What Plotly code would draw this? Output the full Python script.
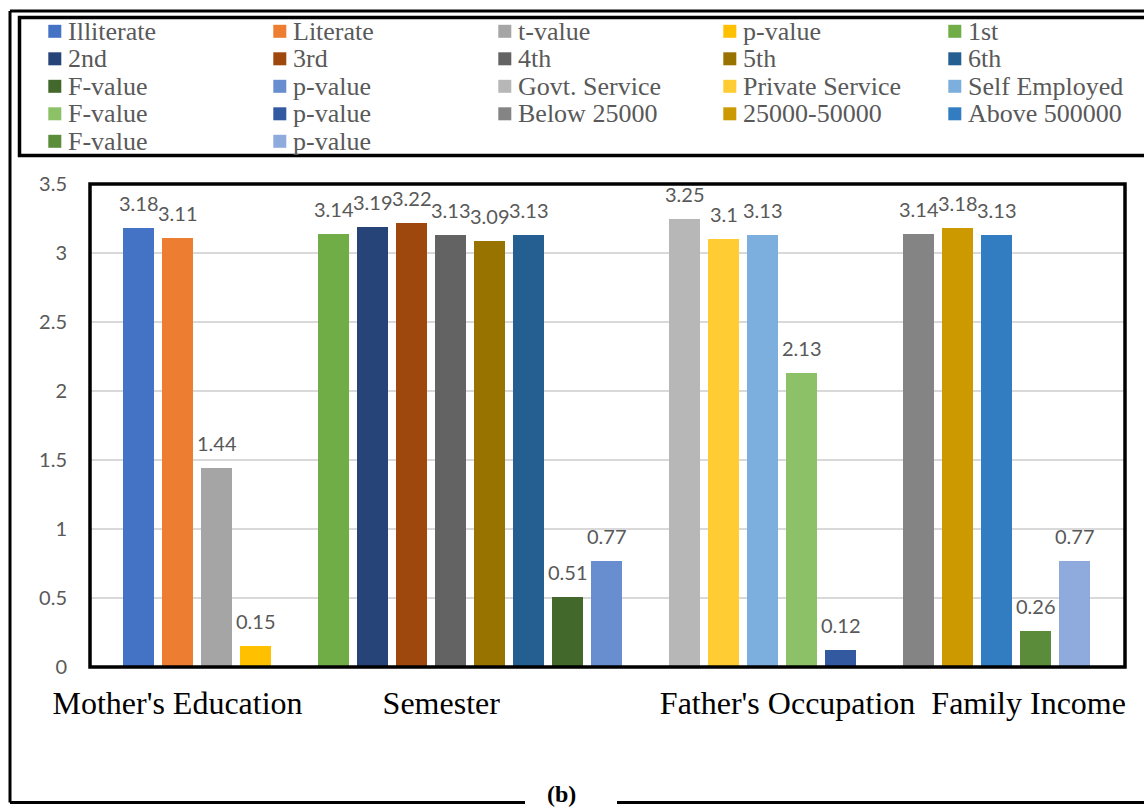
import plotly.graph_objects as go

# ---- data -------------------------------------------------------------
categories = ["Mother's Education", "Semester", "Father's Occupation", "Family Income"]

mother_names = ["Illiterate", "Literate", "t-value", "p-value"]
mother_values = [3.18, 3.11, 1.44, 0.15]

semester_names = ["1st", "2nd", "3rd", "4th", "5th", "6th", "F-value", "p-value"]
semester_values = [3.14, 3.19, 3.22, 3.13, 3.09, 3.13, 0.51, 0.77]

father_names = ["Govt. Service", "Private Service", "Self Employed", "F-value", "p-value"]
father_values = [3.25, 3.1, 3.13, 2.13, 0.12]

income_names = ["Below 25000", "25000-50000", "Above 500000", "F-value", "p-value"]
income_values = [3.14, 3.18, 3.13, 0.26, 0.77]

y_ticks = [0, 0.5, 1, 1.5, 2, 2.5, 3, 3.5]

# ---- colours ----------------------------------------------------------
mother_colors = ["#4472C4", "#ED7D31", "#A5A5A5", "#FFC000"]
semester_colors = ["#70AD47", "#264478", "#9E480E", "#636363", "#997300", "#255E91",
                   "#43682B", "#698ED0"]
father_colors = ["#B7B7B7", "#FFCD33", "#7CAFDD", "#8CC168", "#335AA1"]
income_colors = ["#848484", "#CC9A00", "#327DC2", "#5A8C3A", "#8FAADC"]

groups = [
    (mother_names, mother_values, mother_colors),
    (semester_names, semester_values, semester_colors),
    (father_names, father_values, father_colors),
    (income_names, income_values, income_colors),
]

# ---- page geometry ----------------------------------------------------
W, H = 1144, 807
ML, MR, MT, MB = 90, 19, 184, 140
PW, PH = W - ML - MR, H - MT - MB


def px(x):
    return (x - ML) / PW


def py(y):
    return (H - MB - y) / PH


LABEL_FONT = "Lato, Open Sans, sans-serif"
SERIF = "Liberation Serif, Times New Roman, serif"
GREY_TEXT = "#595959"

fig = go.Figure()

# bars laid out slot by slot, one empty slot between groups
annotations = []
legend_items = []
slot = 0
for names, values, colors in groups:
    for name, val, col in zip(names, values, colors):
        fig.add_trace(go.Bar(
            x=[slot], y=[val], name=name, width=0.795,
            marker=dict(color=col, line=dict(width=0)),
            showlegend=False, hoverinfo="name+y",
        ))
        annotations.append(dict(
            x=slot, y=val, xref="x", yref="y", text=f"{val:g}",
            showarrow=False, yanchor="middle", yshift=25,
            font=dict(family=LABEL_FONT, size=20, color=GREY_TEXT),
        ))
        legend_items.append((name, col))
        slot += 1
    slot += 1

# category captions under the bars
category_positions = [1.0, 7.76, 16.64, 22.82]

# hand-built legend: five columns, row-major order
shapes = []
for i, (name, col) in enumerate(legend_items):
    row, c = divmod(i, 5)
    x0 = 48.3 + 225 * c
    yc = 31.3 + 27.5 * row
    shapes.append(dict(
        type="rect", xref="paper", yref="paper", layer="above",
        x0=px(x0), x1=px(x0 + 13), y0=py(yc + 6.5), y1=py(yc - 6.5),
        fillcolor=col, line=dict(width=0),
    ))
    annotations.append(dict(
        x=px(x0 + 18), y=py(yc), xref="paper", yref="paper", text=name,
        showarrow=False, xanchor="left", yanchor="middle",
        font=dict(family=SERIF, size=26, color=GREY_TEXT),
    ))

# plot-area border
shapes.append(dict(type="rect", xref="paper", yref="paper", layer="above",
                   x0=0, x1=1, y0=0, y1=1, line=dict(color="black", width=3.5)))

# legend box
shapes.append(dict(type="rect", xref="paper", yref="paper", layer="above",
                   x0=px(19.5), x1=px(1170), y0=py(155.5), y1=py(17.5),
                   line=dict(color="black", width=3.5)))

# outer frame with a break for the panel tag
frame = dict(type="line", xref="paper", yref="paper", layer="above",
             line=dict(color="black", width=3))
shapes.append({**frame, "x0": px(10), "x1": px(1170), "y0": py(11), "y1": py(11)})
shapes.append({**frame, "x0": px(10), "x1": px(10), "y0": py(11), "y1": py(802.5)})
shapes.append({**frame, "x0": px(10), "x1": px(525), "y0": py(802.5), "y1": py(802.5)})
shapes.append({**frame, "x0": px(617), "x1": px(1170), "y0": py(802.5), "y1": py(802.5)})

annotations.append(dict(
    x=px(561), y=py(794), xref="paper", yref="paper", text="<b>(b)</b>",
    showarrow=False, xanchor="center", yanchor="middle",
    font=dict(family=SERIF, size=24, color="black"),
))

fig.update_layout(
    width=W, height=H,
    margin=dict(l=ML, r=MR, t=MT, b=MB, pad=0),
    paper_bgcolor="white", plot_bgcolor="white",
    barmode="overlay", bargap=0,
    showlegend=False,
    shapes=shapes, annotations=annotations,
    xaxis=dict(
        range=[-1.244, 25.29], showgrid=False, zeroline=False, showline=False,
        tickmode="array", tickvals=category_positions, ticktext=categories,
        ticks="", ticklabelstandoff=14,
        tickfont=dict(family=SERIF, size=32, color="black"),
    ),
    yaxis=dict(
        range=[0, 3.5], tickmode="array", tickvals=y_ticks,
        ticktext=[f"{v:g}" for v in y_ticks],
        showgrid=True, gridcolor="#D9D9D9", gridwidth=1.5,
        zeroline=False, showline=False, ticks="", ticklabelstandoff=22,
        tickfont=dict(family=LABEL_FONT, size=20, color=GREY_TEXT),
    ),
)

fig.write_html("out.html")
